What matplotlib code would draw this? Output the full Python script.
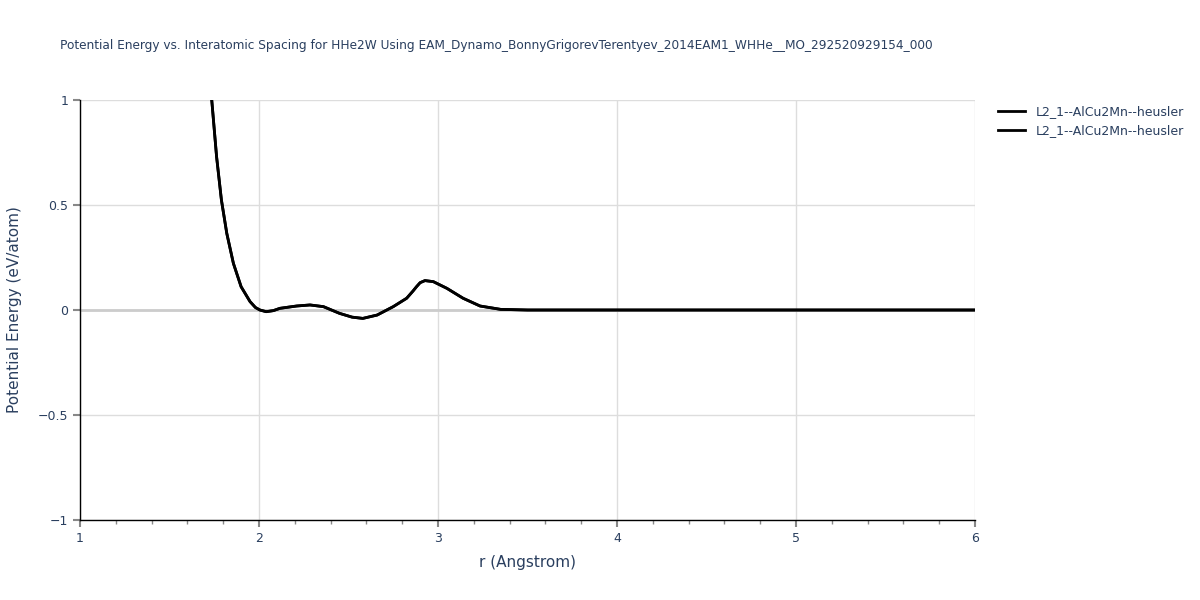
import numpy as np
import matplotlib
matplotlib.use('Agg')
import matplotlib.pyplot as plt

# values
r = [1.736, 1.763, 1.79, 1.82, 1.857, 1.90, 1.95, 1.98, 2.005, 2.04, 2.08, 2.117, 2.21, 2.285,
     2.36, 2.45, 2.52, 2.58, 2.66, 2.75, 2.825, 2.86, 2.88, 2.90, 2.927, 2.974, 3.05, 3.14, 3.235,
     3.35, 3.5, 4.0, 4.5, 5.0, 5.5, 6.0]
energy = [1.0, 0.73, 0.524, 0.365, 0.222, 0.111, 0.040, 0.012, 0.0, -0.008, -0.003, 0.008, 0.019, 0.024,
          0.016, -0.016, -0.034, -0.040, -0.024, 0.016, 0.056, 0.09, 0.111, 0.13, 0.14, 0.135, 0.103, 0.056, 0.019,
          0.003, 0.0, 0.0, 0.0, 0.0, 0.0, 0.0]
labels = ["L2_1--AlCu2Mn--heusler", "L2_1--AlCu2Mn--heusler"]

txt = '#2a3f5f'
fig = plt.figure(figsize=(12, 6), dpi=100)
ax = fig.add_axes([80/1200, 80/600, 895/1200, 420/600])

for lab in labels:
    ax.plot(r, energy, '-', color='black', lw=2, label=lab, zorder=3)

ax.set_xlim(1, 6)
ax.set_ylim(-1, 1)
ax.set_xticks([1, 2, 3, 4, 5, 6])
ax.set_xticks(np.arange(1, 6.01, 0.2), minor=True)
ax.set_yticks([-1, -0.5, 0, 0.5, 1])
ax.set_yticklabels(['\u22121', '\u22120.5', '0', '0.5', '1'])
ax.grid(True, color='#dddddd', lw=1)
ax.set_axisbelow(True)
ax.axhline(0, color='#cccccc', lw=2, zorder=1)
for s in ['top', 'right']:
    ax.spines[s].set_visible(False)
for s in ['left', 'bottom']:
    ax.spines[s].set_color('black')
    ax.spines[s].set_linewidth(1)
ax.tick_params(axis='both', which='major', direction='out', length=5, color='#888888',
               labelsize=9, labelcolor=txt, width=1.5)
ax.tick_params(axis='x', which='minor', direction='out', length=3, color='#888888', width=1)
ax.set_xlabel('r (Angstrom)', fontsize=11, color=txt)
ax.set_ylabel('Potential Energy (eV/atom)', fontsize=11, color=txt)
ax.xaxis.set_label_coords(0.5, -35/420, transform=ax.transAxes)
ax.yaxis.set_label_coords(-58/895, 0.5, transform=ax.transAxes)

fig.text(60/1200, 1 - 45/600, 'Potential Energy vs. Interatomic Spacing for HHe2W Using '
         'EAM_Dynamo_BonnyGrigorevTerentyev_2014EAM1_WHHe__MO_292520929154_000',
         fontsize=8.7, color=txt, va='center')

leg = ax.legend(loc='upper left', bbox_to_anchor=(1.02, 1.0), frameon=False,
                fontsize=9, handlelength=2.2, labelspacing=0.5, borderaxespad=0)
for t in leg.get_texts():
    t.set_color(txt)

fig.savefig('out.png', dpi=100)
